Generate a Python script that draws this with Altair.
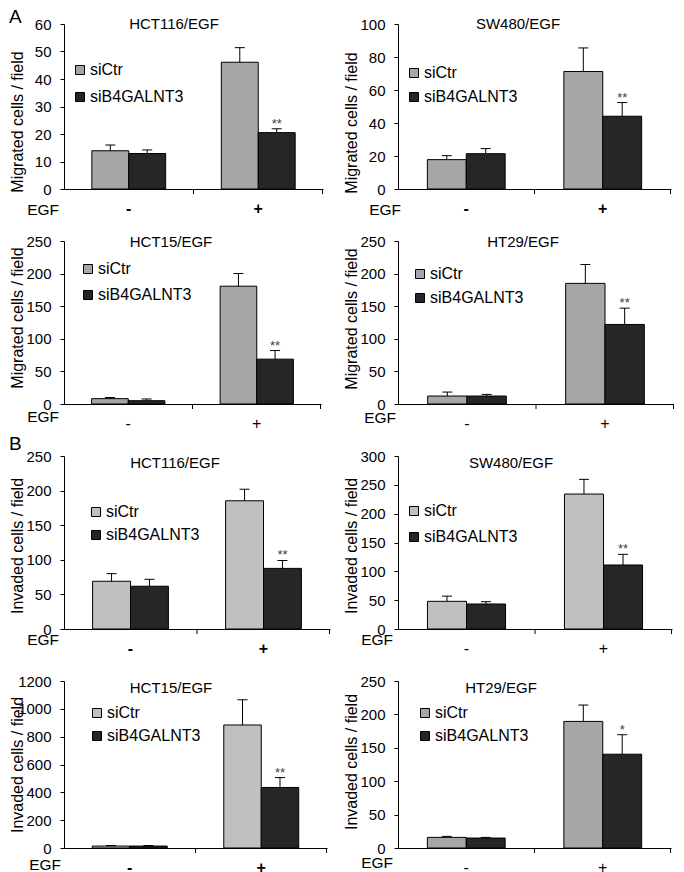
import altair as alt
import pandas as pd

FONT = "Liberation Sans"

# ---------------- data ----------------
cell_lines = ["HCT116/EGF", "SW480/EGF", "HCT15/EGF", "HT29/EGF",
              "HCT116/EGF", "SW480/EGF", "HCT15/EGF", "HT29/EGF"]
y_titles = ["Migrated cells / field"] * 4 + ["Invaded cells / field"] * 4
egf_levels = ["-", "+"]
series = ["siCtr", "siB4GALNT3"]

ctr_mean = [[13.9, 46.1], [17.8, 71.2], [8.2, 180.7], [12.2, 185.0],
            [69.0, 185.3], [48.0, 234.0], [14.0, 884.0], [15.9, 189.5]]
ctr_err = [[2.1, 5.3], [2.4, 14.3], [1.8, 19.5], [6.1, 29.0],
           [11.0, 16.7], [9.0, 25.5], [4.0, 181.0], [1.5, 24.5]]
si_mean = [[12.9, 20.5], [21.4, 44.1], [5.1, 68.8], [12.2, 122.0],
           [61.8, 87.6], [43.4, 111.0], [14.0, 435.0], [14.9, 140.4]]
si_err = [[1.3, 1.4], [3.1, 8.3], [2.6, 13.2], [2.5, 25.0],
          [10.0, 11.4], [4.0, 18.5], [4.0, 71.0], [1.0, 29.2]]
sig_marks = ["**", "**", "**", "**", "**", "**", "**", "*"]
y_max = [60, 100, 250, 250, 250, 300, 1200, 250]
y_step = [10, 20, 50, 50, 50, 50, 200, 50]
panel_letters = {0: "A", 4: "B"}

# ---------------- style ----------------
ctr_colors = ["#a6a6a6"] * 4 + ["#c0c0c0"] * 3 + ["#a6a6a6"]
si_color = "#262626"
W = [259, 273, 257, 276, 266, 274, 263, 273]
H = [165, 165, 163, 163, 173, 173, 167, 167]
title_pos = [(110, 0), (120, 0), (107, 1), (125, 1), (111, 7), (113, 7), (107, 7), (103, 7)]
legend_pos = [(8, 46, 27), (8, 49, 24), (16, 28, 26), (14, 33, 24),
              (24, 56, 23), (8, 55, 26), (25, 32, 23), (19, 32, 23)]
egf_pos = [(-5, 21), (3, 21), (-5, 13), (-2, 14), (-5, 11), (-5, 11), (-3, 17), (-5, 15)]
ytitle_dy = [15, 16, -5, -4, 3, 3, 0, -3]
xlabel_weight = ["bold", "bold", "normal", "normal", "bold", "normal", "bold", "normal"]


def panel(i):
    rows = []
    for j, g in enumerate(egf_levels):
        rows.append(dict(egf=g, series=series[0], mean=ctr_mean[i][j],
                         top=ctr_mean[i][j] + ctr_err[i][j], sig=""))
        rows.append(dict(egf=g, series=series[1], mean=si_mean[i][j],
                         top=si_mean[i][j] + si_err[i][j],
                         sig=sig_marks[i] if j == 1 else ""))
    df = pd.DataFrame(rows)
    w, h = W[i], H[i]

    xenc = alt.X("egf:N", sort=egf_levels,
                 scale=alt.Scale(paddingInner=0.43, paddingOuter=0.215),
                 axis=alt.Axis(title=None, labelAngle=0, ticks=False, labelFontSize=16,
                               labelPadding=11, labelFontWeight=xlabel_weight[i],
                               labelFont=FONT, labelColor="black", domainColor="black"))
    xoff = alt.XOffset("series:N", sort=series,
                       scale=alt.Scale(domain=series, paddingInner=0, paddingOuter=0))
    yscale = alt.Scale(domain=[0, y_max[i]], nice=False, zero=True)
    yaxis = alt.Axis(values=list(range(0, y_max[i] + 1, y_step[i])), format="d",
                     title=y_titles[i],
                     titleFontSize=16, titleFontWeight="normal", titleFont=FONT,
                     titleX=-47, titleY=h / 2 + ytitle_dy[i], titleBaseline="middle",
                     labelFontSize=15, labelFont=FONT, labelColor="black",
                     tickSize=4, labelPadding=9, grid=False,
                     domainColor="black", tickColor="black")

    base = alt.Chart(df)
    lx, ly, spacing = legend_pos[i]
    bars = base.mark_bar(stroke="black", strokeWidth=1).encode(
        x=xenc, xOffset=xoff,
        y=alt.Y("mean:Q", scale=yscale, axis=yaxis),
        color=alt.Color("series:N", sort=series,
                        scale=alt.Scale(domain=series, range=[ctr_colors[i], si_color]),
                        legend=alt.Legend(orient="none", legendX=lx, legendY=ly - 8,
                                          title=None, symbolType="square", symbolSize=81,
                                          symbolStrokeColor="black", symbolStrokeWidth=1,
                                          symbolOpacity=1, labelFontSize=16, labelFont=FONT,
                                          labelColor="black", labelOffset=2,
                                          rowPadding=spacing - 16, padding=0)),
    )
    errs = base.mark_rule(color="black", strokeWidth=1).encode(
        x=xenc, xOffset=xoff,
        y=alt.Y("mean:Q", scale=yscale, axis=yaxis), y2="top:Q")
    caps = base.mark_tick(color="black", thickness=1, size=10, opacity=1).encode(
        x=xenc, xOffset=xoff, y=alt.Y("top:Q", scale=yscale, axis=yaxis))
    stars = base.mark_text(fontSize=13, font=FONT, color="#404040",
                           baseline="alphabetic", dy=-1).encode(
        x=xenc, xOffset=xoff, y=alt.Y("top:Q", scale=yscale, axis=yaxis),
        text="sig:N")

    one = alt.Chart(pd.DataFrame({"k": [0]}))
    tx, ty = title_pos[i]
    title = one.mark_text(text=cell_lines[i], fontSize=15, font=FONT, color="black",
                          align="center", baseline="middle").encode(
        x=alt.value(tx), y=alt.value(ty))
    ex, ey = egf_pos[i]
    egf = one.mark_text(text="EGF", fontSize=15.5, font=FONT, color="black",
                        align="right", baseline="middle").encode(
        x=alt.value(ex), y=alt.value(h + ey))
    tick_mid = one.mark_rule(color="black", strokeWidth=1).encode(
        x=alt.value(w / 2), y=alt.value(h), y2=alt.value(h + 5))
    tick_end = one.mark_rule(color="black", strokeWidth=1).encode(
        x=alt.value(w - 0.5), y=alt.value(h), y2=alt.value(h + 5))

    layers = [bars, errs, caps, stars, title, egf, tick_mid, tick_end]
    if i in panel_letters:
        letter = one.mark_text(text=panel_letters[i], fontSize=19, font=FONT, color="black",
                               align="left", baseline="alphabetic").encode(
            x=alt.value(-55), y=alt.value(-1 if i == 0 else -6))
        layers.append(letter)
    return alt.layer(*layers).properties(width=w, height=h)


chart = alt.concat(*[panel(i) for i in range(8)], columns=2,
                   spacing={"row": 52, "column": 68}, bounds="flush").resolve_scale(
    x="independent", y="independent", color="independent", xOffset="independent"
).resolve_legend(color="independent").properties(padding=0).configure_view(
    stroke=None
).configure_axis(grid=False)

chart.save("out.html", embed_options={"renderer": "svg", "actions": False})
